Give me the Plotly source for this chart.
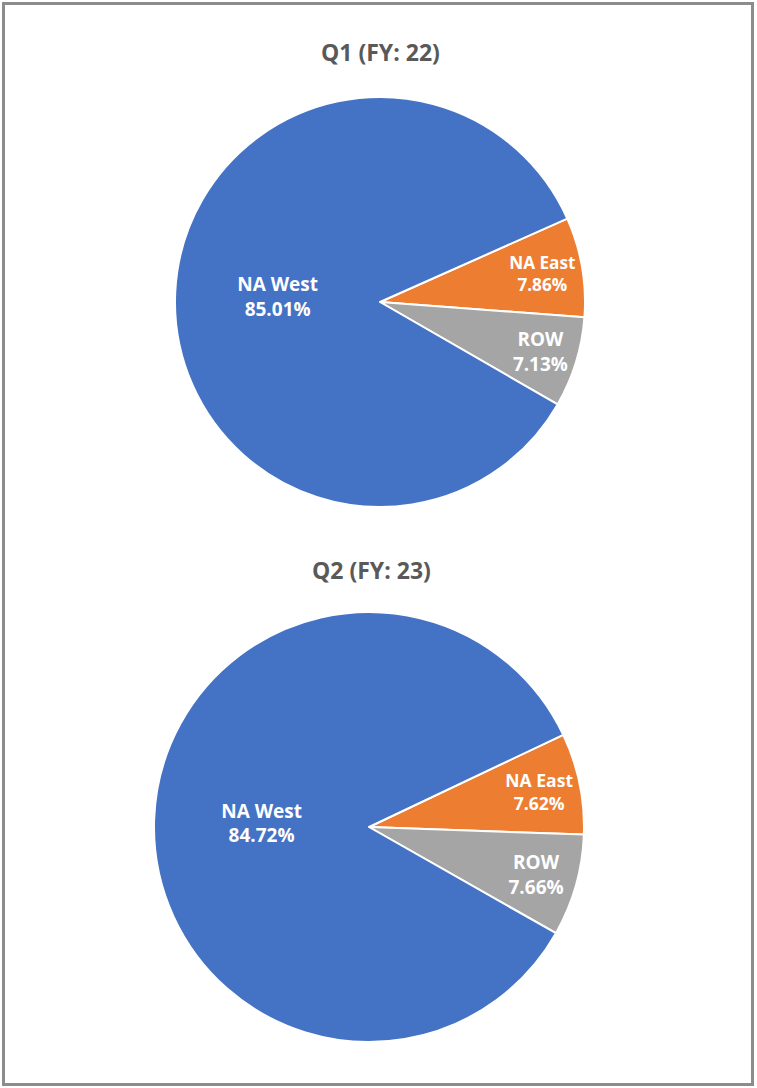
import plotly.graph_objects as go

# Data
categories = ["NA East", "ROW", "NA West"]
q1_values = [7.86, 7.13, 85.01]
q2_values = [7.62, 7.66, 84.72]
titles = ["Q1 (FY: 22)", "Q2 (FY: 23)"]
colors = ["#ED7D31", "#A5A5A5", "#4472C4"]

W, H = 757, 1088

def pie(values, start_angle, cx, cy, r):
    return go.Pie(
        labels=categories, values=values, sort=False, direction="clockwise",
        rotation=90 - start_angle,
        domain=dict(x=[(cx - r) / W, (cx + r) / W], y=[1 - (cy + r) / H, 1 - (cy - r) / H]),
        marker=dict(colors=colors, line=dict(color="white", width=2)),
        texttemplate="<b>%{label}</b><br><b>%{value:.2f}%</b>", textinfo="text",
        textposition="inside", insidetextorientation="horizontal",
        insidetextfont=dict(color="white", size=19, family="Open Sans"),
        hoverinfo="label+value", showlegend=False,
    )

fig = go.Figure()
fig.add_trace(pie(q1_values, 24, 380, 302, 205))
fig.add_trace(pie(q2_values, 25.4, 369, 827, 215))

fig.update_layout(
    width=W, height=H, margin=dict(l=0, r=0, t=0, b=0),
    paper_bgcolor="white", plot_bgcolor="white",
    font=dict(family="Open Sans"),
    annotations=[
        dict(text="<b>%s</b>" % titles[0], x=381 / W, y=1 - 52 / H, xref="paper", yref="paper",
             xanchor="center", yanchor="middle",
             showarrow=False, font=dict(size=23, color="#595959")),
        dict(text="<b>%s</b>" % titles[1], x=371 / W, y=1 - 570 / H, xref="paper", yref="paper",
             xanchor="center", yanchor="middle",
             showarrow=False, font=dict(size=23, color="#595959")),
    ],
    shapes=[dict(type="rect", xref="paper", yref="paper", x0=3.5 / W, x1=752.5 / W,
                 y0=1 - 1084.5 / H, y1=1 - 3.5 / H, line=dict(color="#8c8c8c", width=3))],
)

fig.write_html("out.html", config={"displayModeBar": False},
               post_script="document.body.style.margin='0';document.body.style.padding='0';")
